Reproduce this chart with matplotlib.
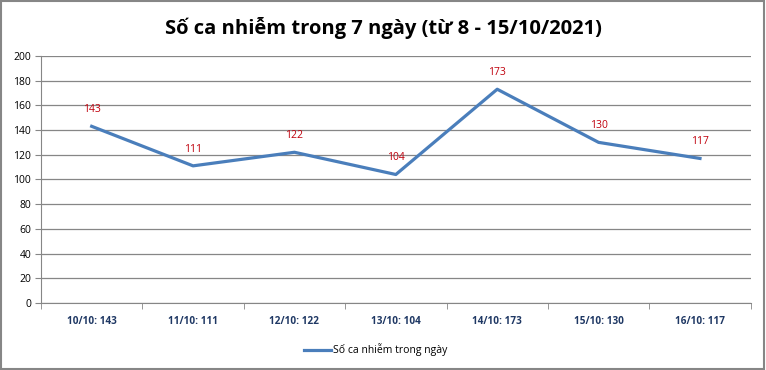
import numpy as np
import matplotlib.pyplot as plt
from matplotlib.patches import Rectangle

plt.rcParams['font.family'] = ['Open Sans', 'DejaVu Sans']

categories = ['10/10: 143', '11/10: 111', '12/10: 122', '13/10: 104',
              '14/10: 173', '15/10: 130', '16/10: 117']
cases = [143, 111, 122, 104, 173, 130, 117]

fig = plt.figure(figsize=(7.66, 3.70), dpi=100)
ax = fig.add_axes([0.0535, 0.181, 0.9265, 0.668])

x = np.arange(len(categories))
line_color = '#4A7EBB'
ax.plot(x, cases, color=line_color, linewidth=2.3, label='Số ca nhiễm trong ngày')

for xi, v in zip(x, cases):
    ax.annotate(str(v), (xi, v), xytext=(0, 8), textcoords='offset points',
                ha='center', va='bottom', color='#C0000C', fontsize=7.5)

ax.set_xlim(-0.5, len(categories) - 0.5)
ax.set_ylim(0, 200)
ax.set_yticks(range(0, 201, 20))
ax.tick_params(axis='y', labelsize=7.5, length=4, color='#868686', pad=3)
ax.set_xticks(x)
ax.set_xticklabels(categories, fontsize=7.2, fontweight='bold', color='#1F3864')
ax.tick_params(axis='x', length=0, pad=9)
ax.set_xticks(np.arange(-0.5, len(categories)), minor=True)
ax.tick_params(axis='x', which='minor', length=4, color='#868686')

ax.grid(axis='y', color='#868686', linewidth=0.9)
ax.set_axisbelow(True)
for s in ['top', 'right']:
    ax.spines[s].set_visible(False)
for s in ['left', 'bottom']:
    ax.spines[s].set_color('#868686')

fig.suptitle('Số ca nhiễm trong 7 ngày (từ 8 - 15/10/2021)', y=0.955,
             fontsize=14.5, fontweight='bold')

fig.legend(loc='center', bbox_to_anchor=(0.49, 0.055), frameon=False,
           fontsize=7.5, handlelength=2.6, handletextpad=0.2)

fig.patches.append(Rectangle((0.001, 0.002), 0.997, 0.995, transform=fig.transFigure,
                             fill=False, edgecolor='#868686', linewidth=1.5))

fig.savefig('out.png', dpi=100)
